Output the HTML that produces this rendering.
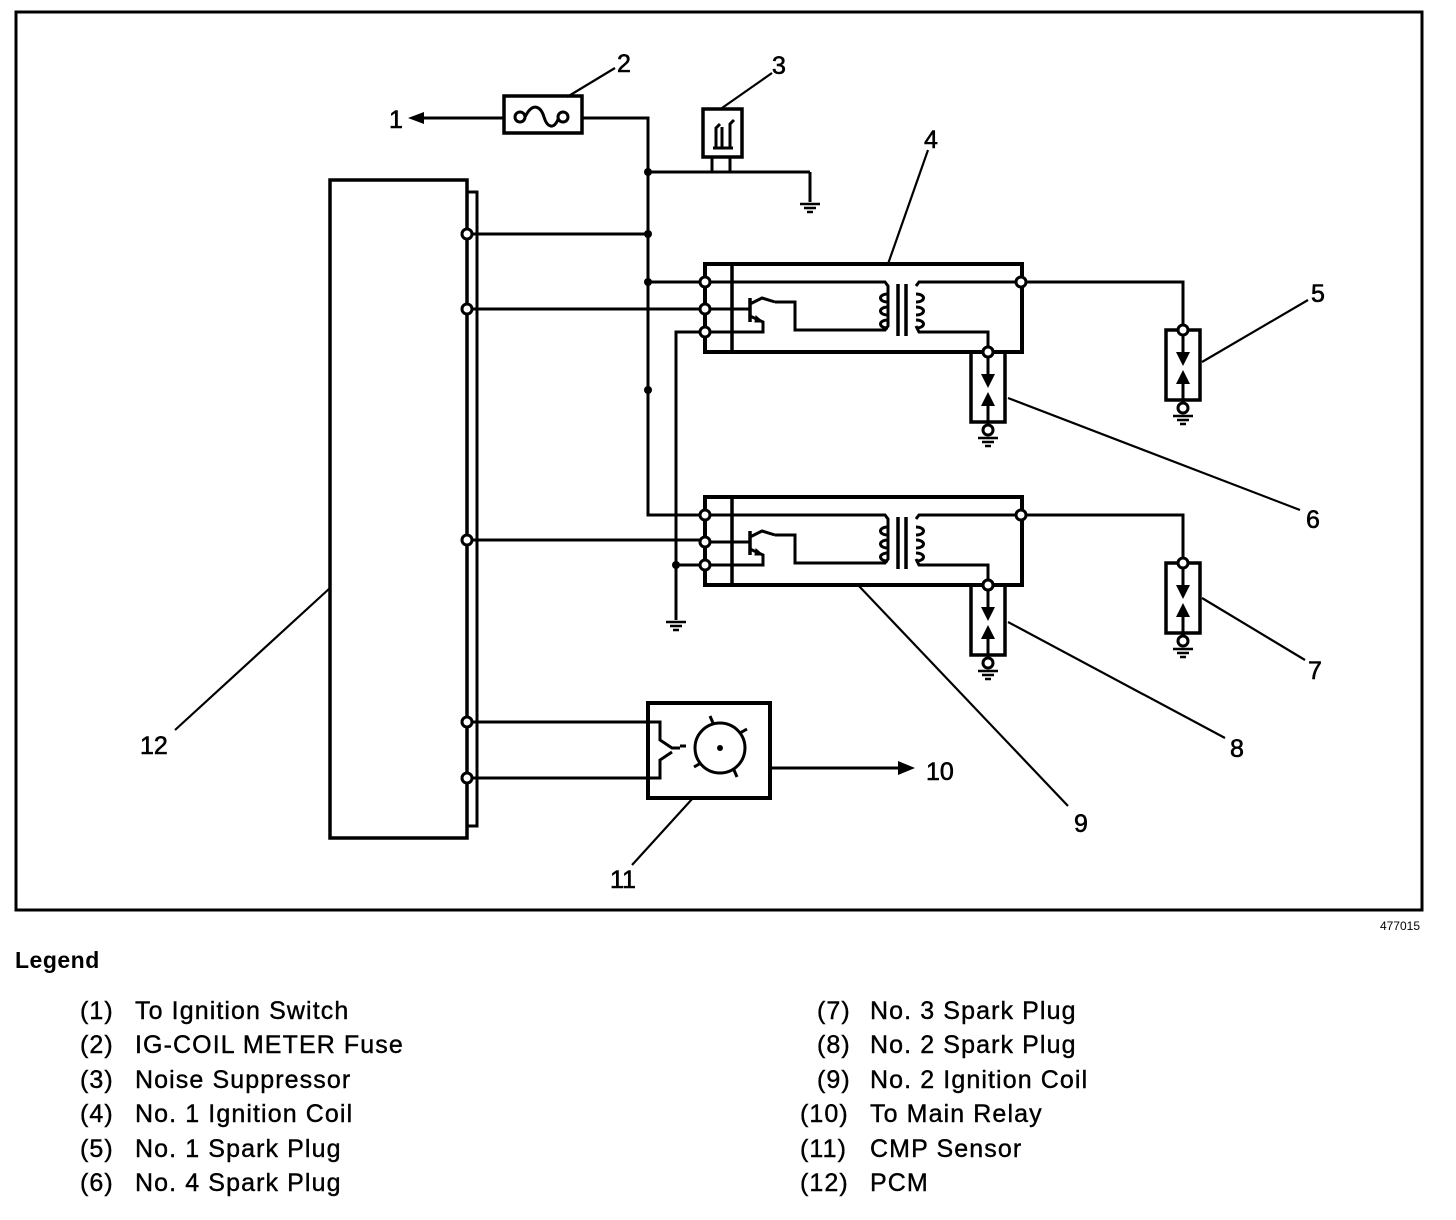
<!DOCTYPE html>
<html><head><meta charset="utf-8"><style>
html,body{margin:0;padding:0;background:#fff;}
svg{display:block;}
text{font-family:"Liberation Sans",Arial,sans-serif;fill:#000;}
</style></head><body>
<svg width="1456" height="1220" viewBox="0 0 1456 1220" xmlns="http://www.w3.org/2000/svg">
<defs>
<g id="plug">
  <rect x="-17" y="0" width="34" height="70" fill="none" stroke="#000" stroke-width="3.5"/>
  <line x1="0" y1="0" x2="0" y2="32" stroke="#000" stroke-width="3"/>
  <polygon points="-7,22 7,22 0,36" fill="#000"/>
  <polygon points="-7,54 7,54 0,40" fill="#000"/>
  <line x1="0" y1="50" x2="0" y2="78" stroke="#000" stroke-width="3"/>
  <circle cx="0" cy="0" r="5" fill="#fff" stroke="#000" stroke-width="3"/>
  <circle cx="0" cy="78" r="5" fill="#fff" stroke="#000" stroke-width="3"/>
  <line x1="-10" y1="86" x2="10" y2="86" stroke="#000" stroke-width="2.5"/>
  <line x1="-6" y1="90" x2="6" y2="90" stroke="#000" stroke-width="2.5"/>
  <line x1="-3" y1="94" x2="3" y2="94" stroke="#000" stroke-width="2.5"/>
</g>
<g id="gnd">
  <line x1="-10" y1="0" x2="10" y2="0" stroke="#000" stroke-width="2.5"/>
  <line x1="-6" y1="4" x2="6" y2="4" stroke="#000" stroke-width="2.5"/>
  <line x1="-3" y1="8" x2="3" y2="8" stroke="#000" stroke-width="2.5"/>
</g>
<g id="coil" fill="none" stroke="#000">
  <rect x="0" y="0" width="317" height="88" stroke-width="4"/>
  <line x1="27" y1="0" x2="27" y2="88" stroke-width="3.5"/>
  <polyline points="0,18 180,18 183,22 183,62 180,66 90,66 90,38 70,38" stroke-width="3"/>
  <line x1="0" y1="45" x2="45" y2="45" stroke-width="3"/>
  <line x1="45" y1="34" x2="45" y2="58" stroke-width="3.5"/>
  <polyline points="45,40 57,34 70,38" stroke-width="3"/>
  <polyline points="45,52 58,58 58,68 0,68" stroke-width="3"/>
  <polygon points="51,52 58,58 50,58" fill="#000"/>
  <line x1="193" y1="20" x2="193" y2="72" stroke-width="3.5"/>
  <line x1="201" y1="20" x2="201" y2="72" stroke-width="3.5"/>
  <path d="M183,30 c-10,0 -10,8 0,8 M183,43 c-10,0 -10,8 0,8 M183,56 c-10,0 -10,8 0,8" stroke-width="3"/>
  <path d="M211,30 c10,0 10,8 0,8 M211,43 c10,0 10,8 0,8 M211,56 c10,0 10,8 0,8" stroke-width="3"/>
  <polyline points="211,22 214,18 317,18" stroke-width="3"/>
  <polyline points="211,62 214,68 283,68 283,88" stroke-width="3"/>
  <circle cx="0" cy="18" r="5" fill="#fff" stroke-width="3"/>
  <circle cx="0" cy="45" r="5" fill="#fff" stroke-width="3"/>
  <circle cx="0" cy="68" r="5" fill="#fff" stroke-width="3"/>
  <circle cx="316" cy="18" r="5" fill="#fff" stroke-width="3"/>
  <circle cx="283" cy="88" r="5" fill="#fff" stroke-width="3"/>
</g>
</defs>

<rect x="16" y="12" width="1406" height="898" fill="none" stroke="#000" stroke-width="3"/>

<rect x="330" y="180" width="137" height="658" fill="none" stroke="#000" stroke-width="3.5"/>
<polyline points="467,192 477,192 477,826 467,826" fill="none" stroke="#000" stroke-width="3"/>

<g stroke="#000" stroke-width="3" fill="none">
  <line x1="420" y1="118" x2="503" y2="118"/>
  <polyline points="582,118 648,118 648,515 705,515"/>
  <line x1="648" y1="172" x2="810" y2="172"/>
  <line x1="810" y1="172" x2="810" y2="202"/>
  <line x1="712" y1="157" x2="712" y2="172"/>
  <line x1="730" y1="157" x2="730" y2="172"/>
  <line x1="467" y1="234" x2="648" y2="234"/>
  <line x1="648" y1="282" x2="705" y2="282"/>
  <line x1="467" y1="309" x2="705" y2="309"/>
  <polyline points="705,332 676,332 676,620"/>
  <line x1="676" y1="565" x2="705" y2="565"/>
  <line x1="467" y1="540" x2="705" y2="540"/>
  <polyline points="1021,282 1183,282 1183,330"/>
  <polyline points="1021,515 1183,515 1183,563"/>
  <polyline points="467,722 660,722 660,740 672,748 680,748"/>
  <polyline points="467,778 660,778 660,760 672,752"/>
  <line x1="770" y1="768" x2="900" y2="768"/>
</g>
<use href="#gnd" x="810" y="204"/>
<use href="#gnd" x="676" y="622"/>
<polygon points="408,118 424,112 424,124" fill="#000"/>
<polygon points="915,768 898,761 898,775" fill="#000"/>

<g fill="#000">
  <circle cx="648" cy="172" r="4"/><circle cx="648" cy="234" r="4"/>
  <circle cx="648" cy="282" r="4"/><circle cx="648" cy="390" r="4"/>
  <circle cx="676" cy="565" r="4"/>
</g>
<g fill="#fff" stroke="#000" stroke-width="3">
  <circle cx="467" cy="234" r="5"/><circle cx="467" cy="309" r="5"/>
  <circle cx="467" cy="540" r="5"/><circle cx="467" cy="722" r="5"/>
  <circle cx="467" cy="778" r="5"/>
</g>

<rect x="504" y="96" width="78" height="37" fill="#fff" stroke="#000" stroke-width="3.5"/>
<path d="M525,117 c8,-16 16,-10 19,0 c3,10 10,14 15,0" fill="none" stroke="#000" stroke-width="3"/>
<circle cx="520" cy="117" r="5" fill="#fff" stroke="#000" stroke-width="3"/>
<circle cx="563" cy="117" r="5" fill="#fff" stroke="#000" stroke-width="3"/>

<rect x="703" y="109" width="39" height="48" fill="#fff" stroke="#000" stroke-width="3.5"/>
<g stroke="#000" stroke-width="3" fill="none">
  <polyline points="716,148 716,128 720,124"/>
  <line x1="722" y1="148" x2="722" y2="127"/>
  <polyline points="730,148 730,124 734,120"/>
  <line x1="713" y1="148" x2="733" y2="148"/>
</g>

<use href="#coil" x="705" y="264"/>
<use href="#coil" x="705" y="497"/>

<use href="#plug" x="1183" y="330"/>
<use href="#plug" x="1183" y="563"/>
<use href="#plug" x="988" y="352"/>
<use href="#plug" x="988" y="585"/>

<rect x="648" y="703" width="122" height="95" fill="none" stroke="#000" stroke-width="4"/>
<g stroke="#000" stroke-width="3" fill="none">
  <line x1="680" y1="746" x2="686" y2="746"/>
  <circle cx="720" cy="748" r="25"/>
  <line x1="713" y1="723" x2="710" y2="716"/><line x1="740" y1="733" x2="747" y2="729"/>
  <line x1="734" y1="770" x2="737" y2="777"/><line x1="701" y1="763" x2="694" y2="767"/>
</g>
<circle cx="720" cy="748" r="3" fill="#000"/>

<g stroke="#000" stroke-width="2.2" fill="none">
  <line x1="567" y1="97" x2="615" y2="68"/>
  <line x1="722" y1="108" x2="772" y2="73"/>
  <line x1="888" y1="264" x2="928" y2="150"/>
  <line x1="1202" y1="362" x2="1308" y2="300"/>
  <line x1="1008" y1="398" x2="1300" y2="510"/>
  <line x1="1202" y1="598" x2="1305" y2="660"/>
  <line x1="1008" y1="622" x2="1225" y2="738"/>
  <line x1="858" y1="585" x2="1068" y2="806"/>
  <line x1="693" y1="798" x2="632" y2="865"/>
  <line x1="330" y1="588" x2="175" y2="730"/>
</g>

<g font-size="25" stroke="#000" stroke-width="0.6">
  <text x="389" y="128">1</text>
  <text x="617" y="72">2</text>
  <text x="772" y="74">3</text>
  <text x="924" y="148">4</text>
  <text x="1311" y="302">5</text>
  <text x="1306" y="528">6</text>
  <text x="1308" y="679">7</text>
  <text x="1230" y="757">8</text>
  <text x="1074" y="832">9</text>
  <text x="926" y="780">10</text>
  <text x="610" y="888">11</text>
  <text x="140" y="754">12</text>
</g>
<text x="1420" y="930" font-size="12" text-anchor="end">477015</text>

<text x="15" y="968" font-size="23" font-weight="bold" letter-spacing="0.5">Legend</text>
<g font-size="25" letter-spacing="1.1" stroke="#000" stroke-width="0.4">
  <text x="80" y="1019">(1)</text><text x="135" y="1019">To Ignition Switch</text>
  <text x="80" y="1053">(2)</text><text x="135" y="1053">IG-COIL METER Fuse</text>
  <text x="80" y="1088">(3)</text><text x="135" y="1088">Noise Suppressor</text>
  <text x="80" y="1122">(4)</text><text x="135" y="1122">No. 1 Ignition Coil</text>
  <text x="80" y="1157">(5)</text><text x="135" y="1157">No. 1 Spark Plug</text>
  <text x="80" y="1191">(6)</text><text x="135" y="1191">No. 4 Spark Plug</text>
  <text x="817" y="1019">(7)</text><text x="870" y="1019">No. 3 Spark Plug</text>
  <text x="817" y="1053">(8)</text><text x="870" y="1053">No. 2 Spark Plug</text>
  <text x="817" y="1088">(9)</text><text x="870" y="1088">No. 2 Ignition Coil</text>
  <text x="800" y="1122">(10)</text><text x="870" y="1122">To Main Relay</text>
  <text x="800" y="1157">(11)</text><text x="870" y="1157">CMP Sensor</text>
  <text x="800" y="1191">(12)</text><text x="870" y="1191">PCM</text>
</g>
</svg>
</body></html>
